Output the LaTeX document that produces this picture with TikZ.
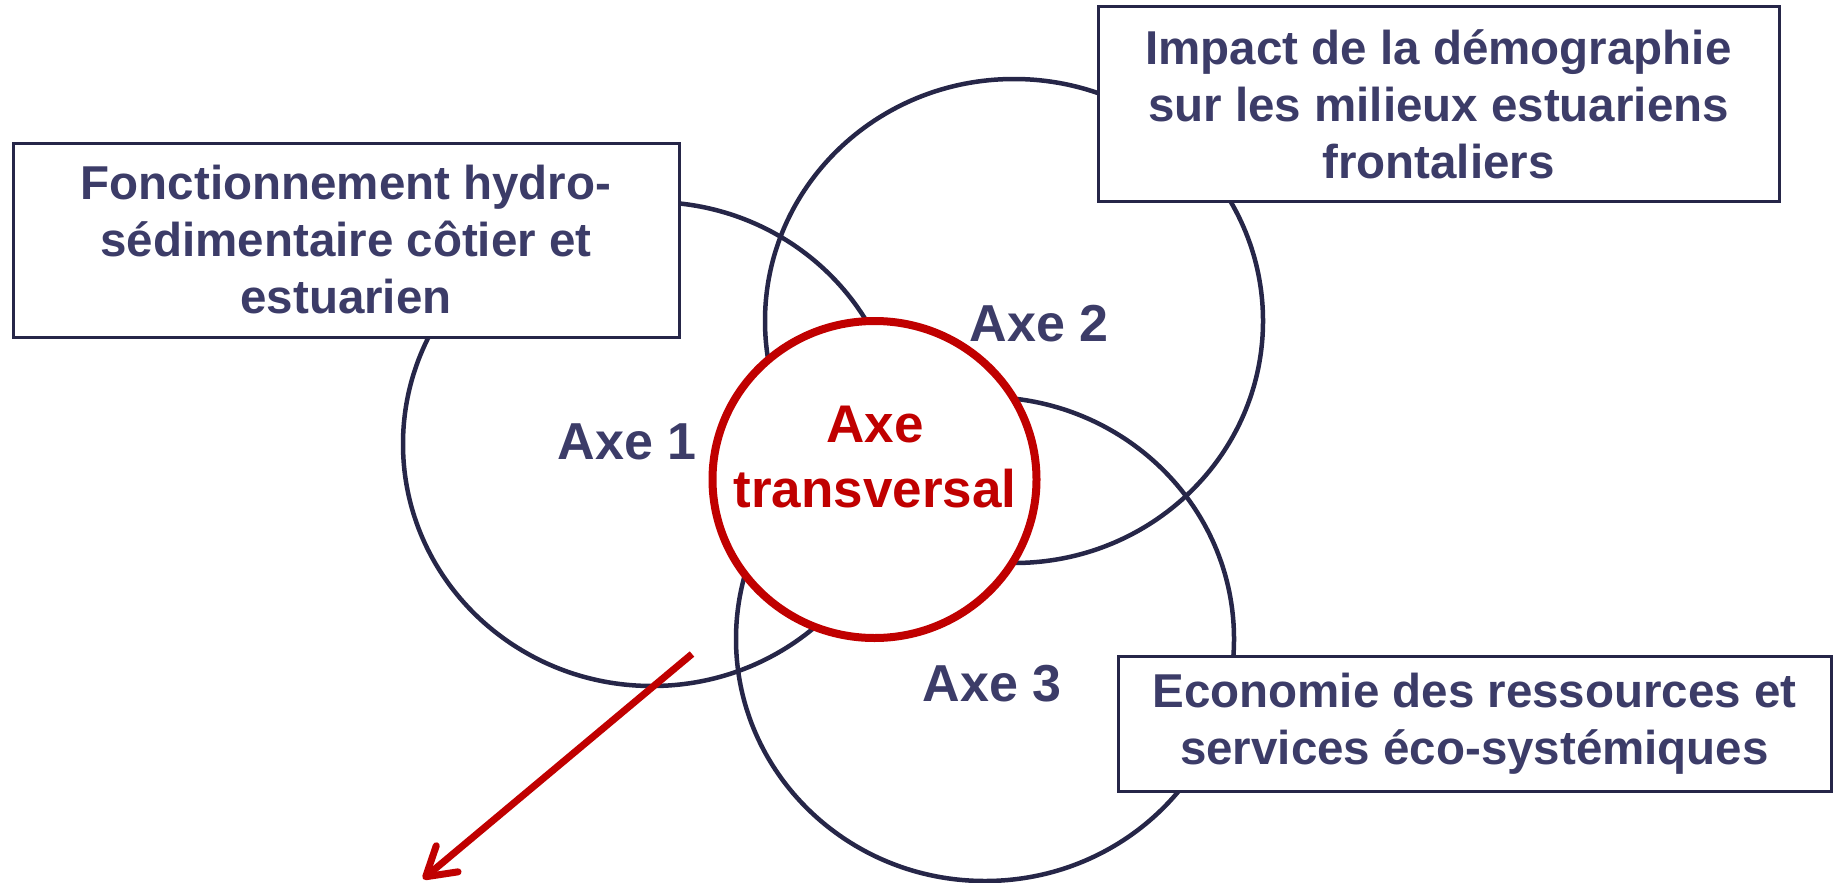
\documentclass[tikz,border=0pt]{standalone}
\usepackage{fontspec}
\setmainfont{Liberation Sans}
\usetikzlibrary{shapes.geometric,arrows.meta}
\definecolor{txt}{RGB}{60,60,104}
\definecolor{ring}{RGB}{38,38,72}
\definecolor{rouge}{RGB}{192,0,0}
\begin{document}
\begin{tikzpicture}[x=1pt,y=-1pt,
  axe/.style={ellipse, draw=ring, line width=4.5pt, minimum width=498pt, minimum height=484pt, inner sep=0pt},
  core/.style={ellipse, draw=rouge, fill=white, line width=8pt, minimum width=324pt, minimum height=317pt, inner sep=0pt},
  box/.style={draw=ring, fill=white, line width=3pt, align=center, inner sep=0pt, text=txt,
    font=\fontsize{47.5pt}{57pt}\selectfont\bfseries},
  lab/.style={text=txt, font=\fontsize{52pt}{62pt}\selectfont\bfseries, inner sep=0pt, anchor=base},
  corelab/.style={text=rouge, align=center, inner sep=0pt, font=\fontsize{53pt}{65pt}\selectfont\bfseries},
  link/.style={draw=rouge, line width=7pt, -{Straight Barb[round,length=28pt,width=34pt]}}]
\useasboundingbox (0,0) rectangle (1833,883);
\node[axe] (a1) at (652,444) {};
\node[axe] (a2) at (1014,321) {};
\node[axe] (a3) at (985,639) {};
\node[core] (at) at (874.5,479.5) {};
\node[box, minimum width=666pt, minimum height=194pt] (b1) at (346,240)
  {Fonctionnement hydro-\\sédimentaire côtier et\\estuarien};
\node[box, minimum width=681pt, minimum height=194pt] (b2) at (1438.5,104)
  {Impact de la démographie\\sur les milieux estuariens\\frontaliers};
\node[box, minimum width=713pt, minimum height=135pt] (b3) at (1474.5,723.5)
  {Economie des ressources et\\services éco-systémiques};
\node[lab] (l1) at (627,459) {Axe 1};
\node[lab] (l2) at (1039,341) {Axe 2};
\node[lab] (l3) at (992,701) {Axe 3};
\node[corelab] (lt) at (875,457) {Axe\\transversal};
\coordinate (as) at (692,654);
\coordinate (ae) at (423,879);
\draw[link] (as) -- (ae);
\end{tikzpicture}
\end{document}
